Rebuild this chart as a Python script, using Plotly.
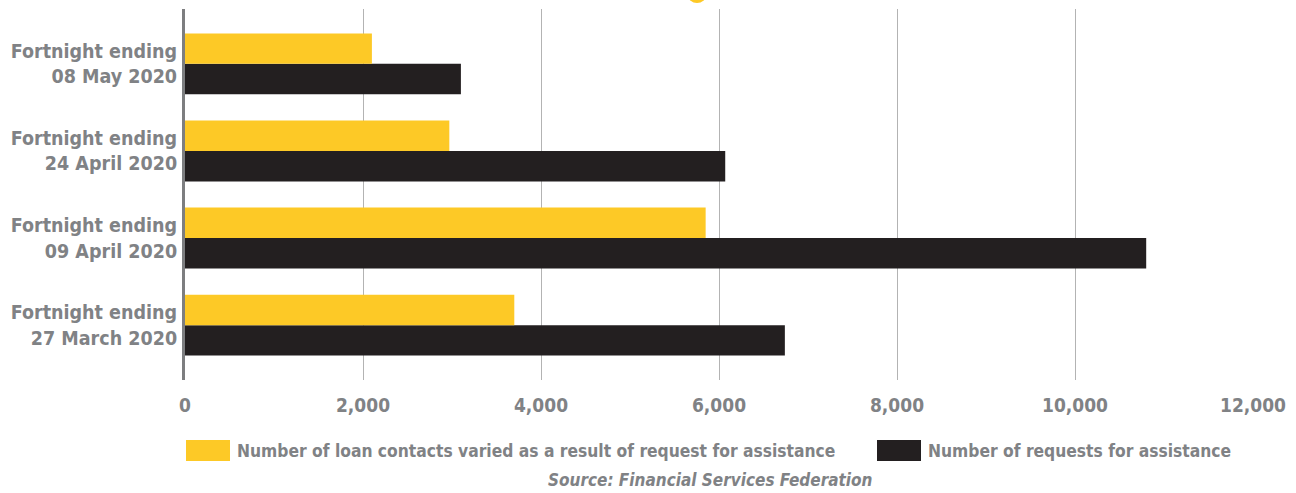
import plotly.graph_objects as go

categories = ["Fortnight ending<br>27 March 2020", "Fortnight ending<br>09 April 2020",
              "Fortnight ending<br>24 April 2020", "Fortnight ending<br>08 May 2020"]
loans_varied = [3700, 5850, 2970, 2100]
requests = [6740, 10800, 6070, 3100]
series_names = ["Number of loan contacts varied as a result of request for assistance",
                "Number of requests for assistance"]
x_ticks = [0, 2000, 4000, 6000, 8000, 10000, 12000]

YELLOW = "#FDC926"
BLACK = "#231F20"
GRAY = "#808285"
FONT = "DejaVu Sans Condensed, Liberation Sans Narrow, sans-serif"

fig = go.Figure()
fig.add_trace(go.Bar(y=categories, x=requests, orientation="h", name=series_names[1],
                     marker=dict(color=BLACK, line=dict(width=0)), showlegend=False))
fig.add_trace(go.Bar(y=categories, x=loans_varied, orientation="h", name=series_names[0],
                     marker=dict(color=YELLOW, line=dict(width=0)), showlegend=False))

fig.update_layout(
    width=1296, height=493,
    margin=dict(l=185, r=43, t=9, b=113),
    paper_bgcolor="white", plot_bgcolor="white",
    barmode="group", bargap=0.3, bargroupgap=0,
    font=dict(family=FONT, color=GRAY),
)
fig.update_xaxes(range=[0, 12000], tickvals=x_ticks, tickformat=",d",
                 showgrid=True, gridcolor="#B3B3B3", gridwidth=1,
                 zeroline=False, showline=False, ticks="", automargin=False,
                 tickfont=dict(family=FONT, size=19, color=GRAY, weight="bold"),
                 ticklabelstandoff=12)
fig.update_yaxes(range=[-0.63, 3.63], showgrid=False, zeroline=False,
                 showline=True, linecolor="#7D7E80", linewidth=3, ticks="",
                 automargin=False,
                 tickfont=dict(family=FONT, size=19.5, color=GRAY, weight="bold"),
                 ticklabelstandoff=1)

# custom legend
legend_items = [(series_names[0], YELLOW, 186), (series_names[1], BLACK, 877)]
for name, col, px in legend_items:
    x0 = (px - 185) / 1068
    x1 = (px + 44 - 185) / 1068
    fig.add_shape(type="rect", xref="paper", yref="paper", x0=x0, x1=x1,
                  y0=(380 - 461) / 371, y1=(380 - 440) / 371,
                  fillcolor=col, line=dict(width=0))
    fig.add_annotation(xref="paper", yref="paper", x=(px + 49 - 185) / 1068,
                       y=(380 - 451) / 371, text=name, showarrow=False,
                       xanchor="left", yanchor="middle",
                       font=dict(family=FONT, size=17.3, color=GRAY, weight="bold"))

fig.add_annotation(xref="paper", yref="paper", x=(710 - 185) / 1068, y=(380 - 480) / 371,
                   text="<i>Source: Financial Services Federation</i>", showarrow=False,
                   xanchor="center", yanchor="middle",
                   font=dict(family=FONT, size=17, color=GRAY, weight="bold"))

# partial decorative circle at top edge
fig.add_shape(type="circle", xref="paper", yref="paper",
              x0=(688 - 185) / 1068, x1=(706 - 185) / 1068,
              y0=(380 + 12) / 371, y1=(380 - 3) / 371,
              fillcolor=YELLOW, line=dict(width=0))

fig.write_html("out.html")
